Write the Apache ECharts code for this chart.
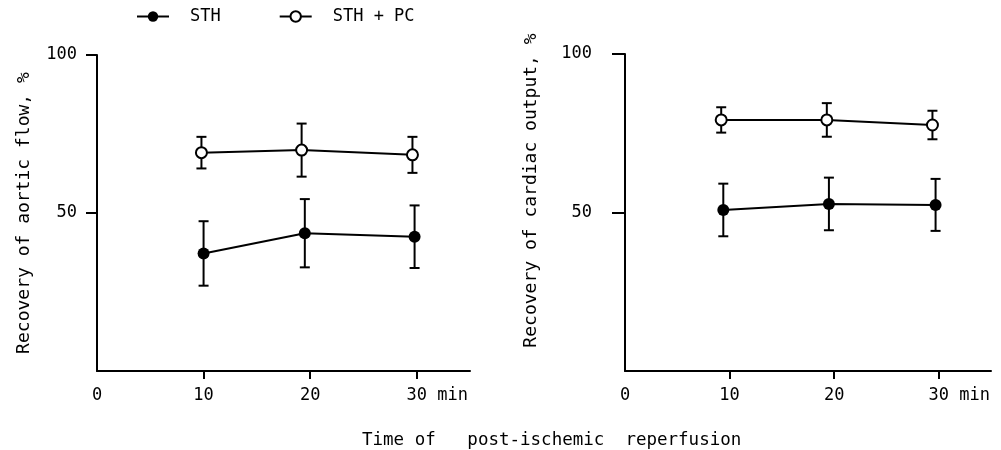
<!DOCTYPE html>
<html>
<head>
<meta charset="utf-8">
<script src="https://cdn.jsdelivr.net/npm/echarts@6/dist/echarts.min.js"></script>
<style>html,body{margin:0;padding:0;background:#fff;}#c{width:1001px;height:450px;}</style>
</head>
<body>
<div id="c"></div>
<script>
// ---- data ----
const xTickValues = [10, 20, 30];
const xLabelValues = [0, 10, 20, 30];
const yTickValues = [50, 100];
const seriesNames = ['STH', 'STH + PC'];

// Left panel: recovery of aortic flow, %
const sthAorticX = [10, 19.5, 29.8];
const sthAortic = [37.2, 43.6, 42.5];
const sthAorticErr = [10.2, 10.8, 9.9];
const pcAorticX = [9.8, 19.2, 29.6];
const pcAortic = [69.1, 69.9, 68.4];
const pcAorticErr = [5.0, 8.4, 5.7];

// Right panel: recovery of cardiac output, %
const sthCardiacX = [9.4, 19.5, 29.7];
const sthCardiac = [50.8, 52.7, 52.4];
const sthCardiacErr = [8.3, 8.3, 8.2];
const pcCardiacX = [9.2, 19.3, 29.4];
const pcCardiac = [79.2, 79.2, 77.6];
const pcCardiacErr = [4.0, 5.3, 4.5];

const FONT = 'DejaVu Sans Mono';

function pts(xs, ys) { return xs.map((x, i) => [x, ys[i]]); }
function errs(xs, ys, es) { return xs.map((x, i) => [x, ys[i] - es[i], ys[i] + es[i]]); }

function errRender(params, api) {
  const x = api.value(0), lo = api.value(1), hi = api.value(2);
  const a = api.coord([x, hi]), b = api.coord([x, lo]);
  const w = 5;
  const st = { stroke: '#000', lineWidth: 2 };
  return {
    type: 'group',
    children: [
      { type: 'line', shape: { x1: a[0], y1: a[1], x2: b[0], y2: b[1] }, style: st },
      { type: 'line', shape: { x1: a[0] - w, y1: a[1], x2: a[0] + w, y2: a[1] }, style: st },
      { type: 'line', shape: { x1: b[0] - w, y1: b[1], x2: b[0] + w, y2: b[1] }, style: st }
    ]
  };
}

function xAxisCfg(gridIndex) {
  return {
    type: 'value', gridIndex, min: 0, max: 35, interval: 10,
    axisLine: { show: true, lineStyle: { color: '#000', width: 2 } },
    axisTick: { show: true, length: 8, customValues: xTickValues, lineStyle: { color: '#000', width: 2 } },
    splitLine: { show: false },
    axisLabel: {
      customValues: xLabelValues, margin: 16, color: '#000', fontFamily: FONT, fontSize: 17,
      formatter: v => v === 30 ? '    30 min' : String(v)
    }
  };
}

function yAxisCfg(gridIndex, name, nameGap, labelMargin, tickLen, namePad) {
  return {
    type: 'value', gridIndex, min: 0, max: 100, interval: 50,
    name, nameLocation: 'middle', nameGap, nameRotate: 90,
    nameTextStyle: { color: '#000', fontFamily: FONT, fontSize: 18, padding: namePad },
    axisLine: { show: true, lineStyle: { color: '#000', width: 2 } },
    axisTick: { show: true, length: tickLen, customValues: yTickValues, lineStyle: { color: '#000', width: 2 } },
    splitLine: { show: false },
    axisLabel: { customValues: yTickValues, margin: labelMargin, color: '#000', fontFamily: FONT, fontSize: 17 }
  };
}

function lineSeries(name, idx, data, filled) {
  return {
    name, type: 'line', xAxisIndex: idx, yAxisIndex: idx, data, z: 3,
    symbol: 'circle', symbolSize: filled ? 12 : 11,
    lineStyle: { color: '#000', width: 2 },
    itemStyle: filled ? { color: '#000', borderColor: '#000', borderWidth: 0 }
                      : { color: '#fff', borderColor: '#000', borderWidth: 2 },
    emphasis: { disabled: true }, animation: false
  };
}

function errSeries(idx, data) {
  return {
    type: 'custom', xAxisIndex: idx, yAxisIndex: idx, data, z: 1,
    renderItem: errRender, animation: false, silent: true
  };
}

const chart = echarts.init(document.getElementById('c'), null, { renderer: 'canvas' });
chart.setOption({
  backgroundColor: '#fff',
  animation: false,
  title: {
    text: 'Time of   post-ischemic  reperfusion',
    left: 357, top: 426,
    textStyle: { color: '#000', fontFamily: FONT, fontSize: 17.5, fontWeight: 'normal' }
  },
  legend: {
    data: seriesNames,
    left: 131, top: 3,
    itemWidth: 32, itemHeight: 13, itemGap: 58,
    textStyle: { color: '#000', fontFamily: FONT, fontSize: 17, padding: [0, 0, 0, 16] }
  },
  grid: [
    { left: 97, top: 55, width: 373, height: 316 },
    { left: 625, top: 54, width: 366, height: 317 }
  ],
  xAxis: [xAxisCfg(0), xAxisCfg(1)],
  yAxis: [
    yAxisCfg(0, 'Recovery of aortic flow, %', 64, 20, 11, [0, 0, 0, 0]),
    yAxisCfg(1, 'Recovery of cardiac output, %', 85, 33, 13, [0, 0, 0, 44])
  ],
  series: [
    errSeries(0, errs(sthAorticX, sthAortic, sthAorticErr)),
    errSeries(0, errs(pcAorticX, pcAortic, pcAorticErr)),
    lineSeries(seriesNames[0], 0, pts(sthAorticX, sthAortic), true),
    lineSeries(seriesNames[1], 0, pts(pcAorticX, pcAortic), false),
    errSeries(1, errs(sthCardiacX, sthCardiac, sthCardiacErr)),
    errSeries(1, errs(pcCardiacX, pcCardiac, pcCardiacErr)),
    lineSeries(seriesNames[0], 1, pts(sthCardiacX, sthCardiac), true),
    lineSeries(seriesNames[1], 1, pts(pcCardiacX, pcCardiac), false)
  ]
});
</script>
</body>
</html>
